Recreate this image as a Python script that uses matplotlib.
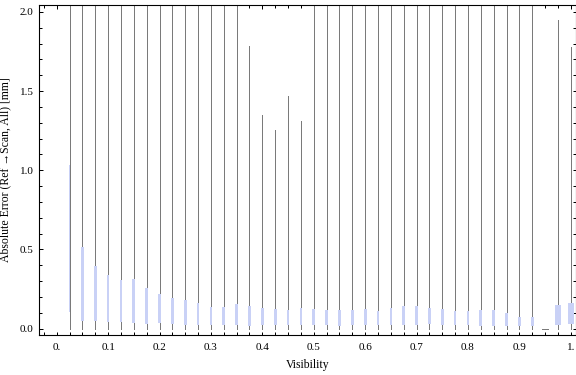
import numpy as np
import matplotlib
matplotlib.use("Agg")
import matplotlib.pyplot as plt
from matplotlib.ticker import MultipleLocator, FixedLocator

# ---- data ----
visibility = [round(0.025 * k, 3) for k in range(1, 41)]

whisker_min = [0.0] * 40
whisker_max = [2.1, 2.1, 2.1, 2.1, 2.1, 2.1, 2.1, 2.1, 2.1, 2.1,
               2.1, 2.1, 2.1, 2.1, 1.785, 1.35, 1.254, 1.469, 1.311, 2.1,
               2.1, 2.1, 2.1, 2.1, 2.1, 2.1, 2.1, 2.1, 2.1, 2.1,
               2.1, 2.1, 2.1, 2.1, 2.1, 2.1, 2.1, 0.0, 1.95, 1.78]
q1 = [0.106, 0.049, 0.049, 0.041, 0.041, 0.037, 0.030, 0.033, 0.030, 0.024,
      0.024, 0.024, 0.020, 0.020, 0.018, 0.022, 0.020, 0.022, 0.022, 0.022,
      0.022, 0.016, 0.022, 0.022, 0.022, 0.022, 0.022, 0.022, 0.027, 0.022,
      0.020, 0.020, 0.016, 0.016, 0.016, 0.016, 0.016, 0.0, 0.022, 0.028]
q3 = [1.030, 0.517, 0.395, 0.338, 0.306, 0.313, 0.258, 0.218, 0.193, 0.178,
      0.159, 0.134, 0.136, 0.153, 0.144, 0.130, 0.123, 0.117, 0.130, 0.125,
      0.117, 0.117, 0.117, 0.123, 0.110, 0.130, 0.142, 0.142, 0.128, 0.121,
      0.110, 0.110, 0.117, 0.117, 0.096, 0.075, 0.071, 0.0, 0.147, 0.159]

x_tick_labels = ["0.", "0.1", "0.2", "0.3", "0.4", "0.5", "0.6", "0.7", "0.8", "0.9", "1."]
y_tick_labels = ["0.0", "0.5", "1.0", "1.5", "2.0"]

xlabel = "Visibility"
ylabel = "Absolute Error (Ref \u2192Scan, All) [mm]"

# ---- style ----
W, H, DPI = 576, 375, 100
fig = plt.figure(figsize=(W / DPI, H / DPI), dpi=DPI)
ax_left, ax_right, ax_bottom, ax_top = 39, 575.5, 335, 4.7
ax = fig.add_axes([ax_left / W, 1 - ax_bottom / H,
                   (ax_right - ax_left) / W, (ax_bottom - ax_top) / H])

xmin, xmax = -0.0345, 1.0092
ymin, ymax = -0.041, 2.046
ax.set_xlim(xmin, xmax)
ax.set_ylim(ymin, ymax)

px_per_x = (ax_right - ax_left) / (xmax - xmin)
px = 1.0 / px_per_x  # one pixel in data units along x
pt_per_px = 72.0 / DPI

whisker_color = "#7a7a7a"
box_color = "#c9d1f6"
box_width_px = [1.2] + [2.7] * 36 + [6.0, 6.0, 6.0]

xs = np.array(visibility)
for i, x in enumerate(xs):
    lo, hi = whisker_min[i], whisker_max[i]
    if hi > lo:
        ax.vlines(x, lo, hi, color=whisker_color, lw=1.0 * pt_per_px,
                  antialiased=False, zorder=2)
    else:
        ax.hlines(lo, x - 3 * px, x + 3 * px, color=whisker_color,
                  lw=1.0 * pt_per_px, antialiased=False, zorder=2)
    if q3[i] > q1[i]:
        ax.bar(x, q3[i] - q1[i], bottom=q1[i], width=box_width_px[i] * px,
               color=box_color, edgecolor="none", linewidth=0, zorder=3)

# ticks
ax.xaxis.set_major_locator(FixedLocator(np.linspace(0, 1, 11)))
ax.set_xticklabels(x_tick_labels)
ax.xaxis.set_minor_locator(MultipleLocator(0.025))
ax.yaxis.set_major_locator(FixedLocator([0, 0.5, 1.0, 1.5, 2.0]))
ax.set_yticklabels(y_tick_labels)
ax.yaxis.set_minor_locator(MultipleLocator(0.1))

font = ["Liberation Serif", "DejaVu Serif"]
for lab in ax.get_xticklabels() + ax.get_yticklabels():
    lab.set_family(font)
    lab.set_fontsize(8)

ax.tick_params(which="both", direction="in", top=True, right=True,
               width=1.0 * pt_per_px, color="black")
ax.tick_params(which="major", length=3.5 * pt_per_px, pad=4)
ax.tick_params(which="minor", length=3.2 * pt_per_px)
ax.tick_params(axis="x", which="major", pad=6)
for s in ax.spines.values():
    s.set_linewidth(1.1 * pt_per_px)
    s.set_color("black")

ax.set_xlabel(xlabel, family=font, fontsize=8.5, labelpad=5)
ax.set_ylabel(ylabel, family=font, fontsize=8.5, labelpad=6)

fig.savefig("out.png", dpi=DPI)
